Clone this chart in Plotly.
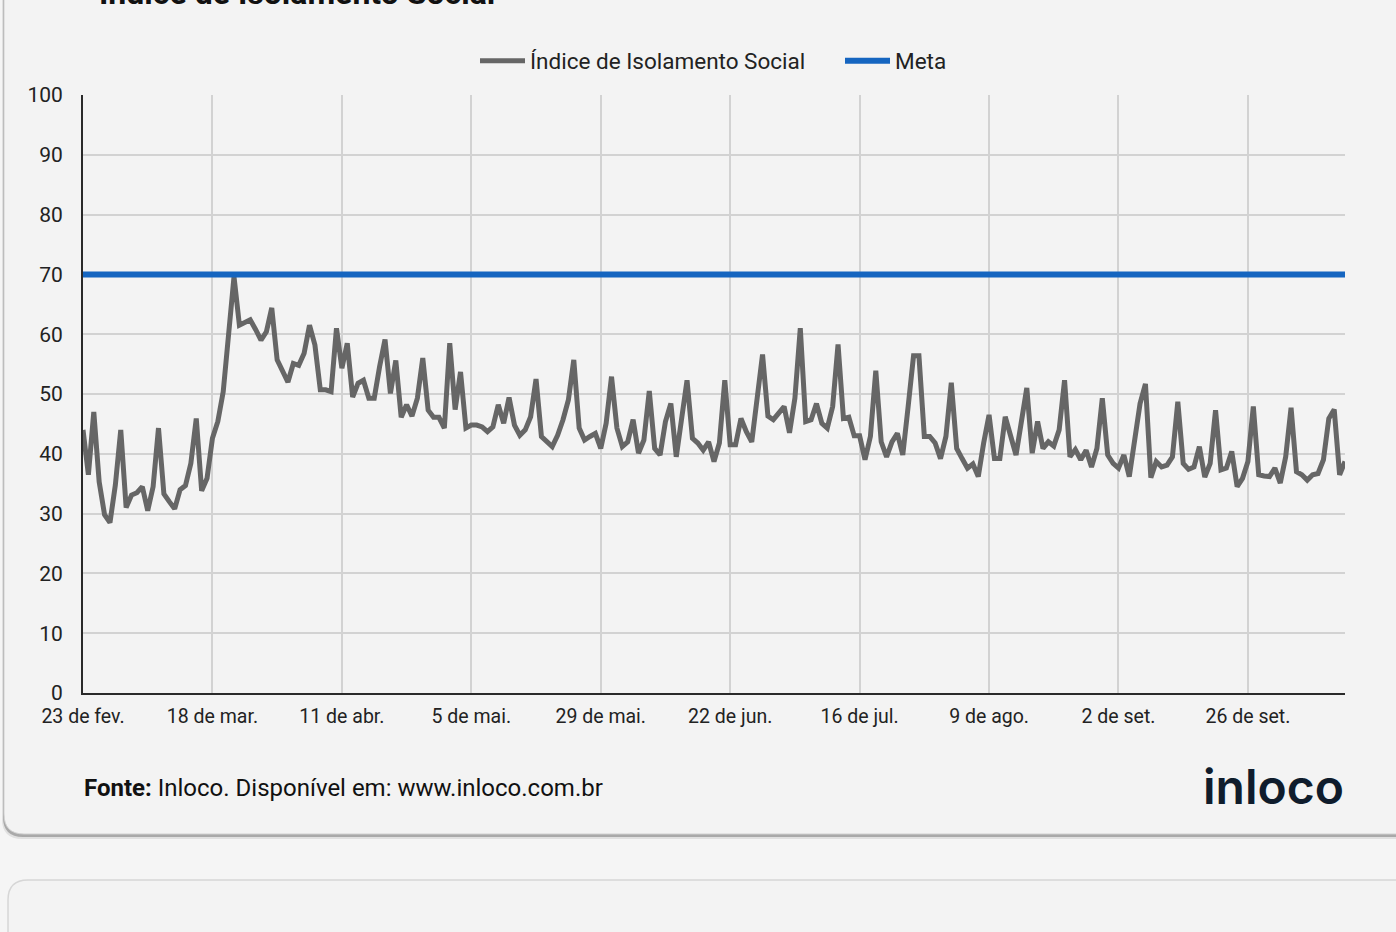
import pandas as pd
import plotly.graph_objects as go

# ---------------- data ----------------
start_date = "2020-02-23"
isolamento = [
    44, 36.5, 47, 35.3, 29.8, 28.5, 34.8, 44, 31, 33.1,
    33.5, 34.5, 30.5, 34.5, 44.3, 33.3, 32, 30.8, 34, 34.7,
    38.4, 45.9, 33.8, 35.9, 42.6, 45.4, 50.4, 61, 69.6, 61.5,
    62, 62.4, 60.8, 59, 60.4, 64.4, 55.7, 54, 52, 55.1,
    54.8, 56.8, 61.5, 58.2, 50.7, 50.7, 50.4, 61, 54.3, 58.5,
    49.5, 51.8, 52.3, 49.3, 49.3, 54.6, 59.1, 50.1, 55.6, 46.1,
    48.2, 46.3, 49.3, 56, 47.3, 46.1, 46.1, 44.3, 58.5, 47.4,
    53.7, 44.3, 44.8, 44.8, 44.5, 43.7, 44.5, 48.2, 45.1, 49.4,
    44.8, 43.1, 44, 46.2, 52.5, 42.9, 42, 41.2, 43.1, 45.7,
    49, 55.7, 44.3, 42.3, 42.9, 43.4, 40.9, 45.1, 52.9, 44.3,
    41.2, 42, 45.7, 40.1, 42.3, 50.5, 40.9, 39.8, 45.4, 48.4,
    39.5, 45.7, 52.3, 42.6, 41.8, 40.6, 42, 38.7, 41.8, 52.3,
    41.5, 41.5, 45.9, 43.7, 42, 49.3, 56.6, 46.3, 45.7, 46.8,
    47.9, 43.5, 49.3, 61, 45.4, 45.7, 48.4, 45.1, 44.3, 47.9,
    58.3, 45.9, 46.1, 43, 43, 39, 42.9, 53.9, 42, 39.5,
    42, 43.4, 39.8, 47.9, 56.4, 56.4, 42.9, 42.9, 41.8, 39.2,
    42.9, 51.9, 40.9, 39.2, 37.6, 38.3, 36.2, 41.8, 46.5, 39.2,
    39.2, 46.2, 43.1, 39.8, 45.4, 51, 40.1, 45.4, 40.9, 42,
    41.3, 44, 52.3, 39.5, 40.7, 39, 40.6, 37.8, 40.9, 49.3,
    39.8, 38.4, 37.6, 39.8, 36.2, 42.3, 48.4, 51.7, 36, 38.7,
    37.8, 38.1, 39.5, 48.7, 38.4, 37.4, 37.8, 41.2, 36.1, 38.4,
    47.3, 37.3, 37.6, 40.4, 34.5, 35.9, 38.7, 47.9, 36.5, 36.3,
    36.2, 37.6, 35.1, 39.5, 47.7, 37, 36.5, 35.6, 36.5, 36.7,
    39, 45.9, 47.4, 36.5, 38.7,
]
meta_value = 70
tick_dates = ["2020-02-23", "2020-03-18", "2020-04-11", "2020-05-05", "2020-05-29",
              "2020-06-22", "2020-07-16", "2020-08-09", "2020-09-02", "2020-09-26"]
tick_labels = ["23 de fev.", "18 de mar.", "11 de abr.", "5 de mai.", "29 de mai.",
               "22 de jun.", "16 de jul.", "9 de ago.", "2 de set.", "26 de set."]
y_ticks = list(range(0, 101, 10))

dates = pd.date_range(start_date, periods=len(isolamento), freq="D")

# ---------------- geometry helpers ----------------
W, H = 1396, 932
L, R, T, B = 83, 1345, 95, 693
PW, PH = R - L, B - T


def px(x):
    return (x - L) / PW


def py(y):
    return (B - y) / PH


def rounded_rect(x0, y0, x1, y1, r):
    pts = [
        ("M", px(x0 + r), py(y0)),
        ("L", px(x1 - r), py(y0)),
        ("Q", px(x1), py(y0), px(x1), py(y0 + r)),
        ("L", px(x1), py(y1 - r)),
        ("Q", px(x1), py(y1), px(x1 - r), py(y1)),
        ("L", px(x0 + r), py(y1)),
        ("Q", px(x0), py(y1), px(x0), py(y1 - r)),
        ("L", px(x0), py(y0 + r)),
        ("Q", px(x0), py(y0), px(x0 + r), py(y0)),
    ]
    s = ""
    for p in pts:
        s += p[0] + " " + " ".join(f"{v:.5f}" for v in p[1:]) + " "
    return s + "Z"


FONT = "Roboto"

fig = go.Figure()
fig.add_trace(go.Scatter(
    x=dates, y=isolamento, mode="lines", name="Índice de Isolamento Social",
    line=dict(color="#666666", width=5),
))
fig.add_trace(go.Scatter(
    x=dates, y=[meta_value] * len(dates), mode="lines", name="Meta",
    line=dict(color="#1565c0", width=6),
))

shapes = [
    dict(type="path", xref="paper", yref="paper", layer="below",
         path=rounded_rect(2, -40, 1420, 839, 20), fillcolor="#e0e0e0", line=dict(width=0)),
    dict(type="path", xref="paper", yref="paper", layer="below",
         path=rounded_rect(3, -40, 1420, 837, 20), fillcolor="#a9a9a9", line=dict(width=0)),
    dict(type="path", xref="paper", yref="paper", layer="below",
         path=rounded_rect(4, -40, 1420, 834, 20), fillcolor="#f3f3f3",
         line=dict(color="#d0d0d0", width=1)),
    dict(type="path", xref="paper", yref="paper", layer="below",
         path=rounded_rect(8, 880, 1420, 1000, 20), fillcolor="#f3f3f3",
         line=dict(color="#d6d6d6", width=1.5)),
]

annotations = [
    dict(text="<b>Índice de Isolamento Social</b>", xref="paper", yref="paper",
         x=px(97), y=py(14), xanchor="left", yanchor="bottom", showarrow=False,
         font=dict(family=FONT, size=32, color="#111111")),
    dict(text="<b>Fonte:</b> Inloco. Disponível em: www.inloco.com.br", xref="paper", yref="paper",
         x=px(82), y=py(788), xanchor="left", yanchor="middle", showarrow=False,
         font=dict(family=FONT, size=24, color="#111111")),
    dict(text="inloco", xref="paper", yref="paper",
         x=px(1273), y=py(786), xanchor="center", yanchor="middle", showarrow=False,
         font=dict(family="Inter", size=48, color="#0f1c2c", weight=600)),
]

fig.update_layout(
    width=W, height=H, autosize=False,
    margin=dict(l=L, r=W - R, t=T, b=H - B, pad=0),
    paper_bgcolor="#f5f5f5", plot_bgcolor="rgba(0,0,0,0)",
    font=dict(family=FONT, size=19, color="#222222"),
    showlegend=True,
    legend=dict(orientation="h", x=px(475), xanchor="left", y=py(61), yanchor="middle",
                font=dict(family=FONT, size=22.5, color="#222222"),
                bgcolor="rgba(0,0,0,0)", itemwidth=45, entrywidth=305,
                tracegroupgap=0),
    shapes=shapes, annotations=annotations,
    xaxis=dict(type="date", range=[dates[0], dates[-1]],
               tickvals=tick_dates, ticktext=tick_labels,
               showgrid=True, gridcolor="#d2d2d2", gridwidth=2,
               showline=True, linecolor="#2a2a2a", linewidth=2,
               ticks="", zeroline=False, ticklabelstandoff=5,
               tickfont=dict(family=FONT, size=19.5, color="#222222")),
    yaxis=dict(range=[0, 100], tickvals=y_ticks,
               showgrid=True, gridcolor="#d2d2d2", gridwidth=2,
               showline=True, linecolor="#2a2a2a", linewidth=2,
               ticks="", zeroline=False, ticklabelstandoff=14,
               tickfont=dict(family=FONT, size=21, color="#222222")),
)

fig.write_html(
    "out.html",
    config={"displayModeBar": False},
    post_script="document.body.style.margin='0px';document.body.style.background='#f5f5f5';",
)
